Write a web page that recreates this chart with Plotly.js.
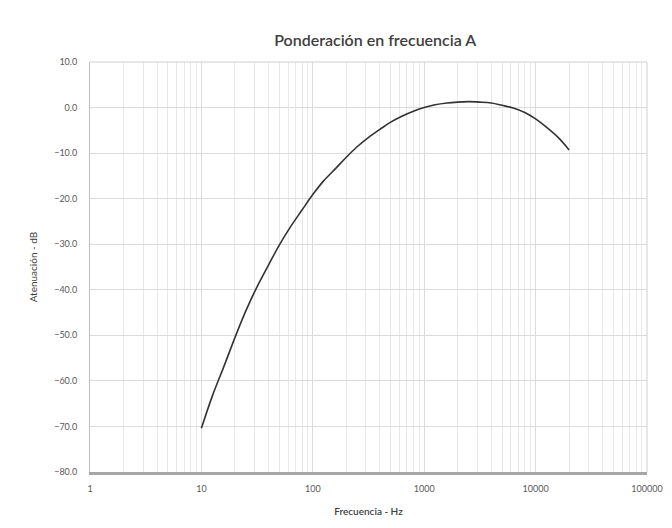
<!DOCTYPE html>
<html>
<head>
<meta charset="utf-8">
<script src="https://cdn.plot.ly/plotly-3.0.1.min.js"></script>
<style>
html,body{margin:0;padding:0;background:#fff;}
#chart{width:672px;height:528px;}
</style>
</head>
<body>
<div id="chart"></div>
<script>
// Frequencies (Hz), third-octave bands
const frecuencias = [10, 12.5, 16, 20, 25, 31.5, 40, 50, 63, 80, 100, 125, 160, 200, 250, 315, 400, 500, 630, 800, 1000, 1250, 1600, 2000, 2500, 3150, 4000, 5000, 6300, 8000, 10000, 12500, 16000, 20000];
// A-weighting attenuation (dB)
const atenuacion = [-70.4, -63.4, -56.7, -50.5, -44.7, -39.4, -34.6, -30.2, -26.2, -22.5, -19.1, -16.1, -13.4, -10.9, -8.6, -6.6, -4.8, -3.2, -1.9, -0.8, 0.0, 0.6, 1.0, 1.2, 1.3, 1.2, 1.0, 0.5, -0.1, -1.1, -2.5, -4.3, -6.6, -9.3];
// Axis tick labels
const xTickVals = [1, 10, 100, 1000, 10000, 100000];
const xTickText = ["1", "10", "100", "1000", "10000", "100000"];
const yTickVals = [10, 0, -10, -20, -30, -40, -50, -60, -70, -80];

const minorVals = [];
for (let d = 1; d < 100000; d *= 10) {
  for (let k = 2; k <= 9; k++) minorVals.push(d * k);
}

const trace = {
  x: frecuencias,
  y: atenuacion,
  type: 'scatter',
  mode: 'lines',
  line: {color: '#333333', width: 1.6, shape: 'spline', smoothing: 1},
  hoverinfo: 'x+y'
};

const fontFam = 'Lato, "Open Sans", sans-serif';

const layout = {
  width: 672,
  height: 528,
  paper_bgcolor: '#ffffff',
  plot_bgcolor: '#ffffff',
  margin: {l: 90, r: 25, t: 62, b: 56},
  showlegend: false,
  title: {
    text: 'Ponderación en frecuencia A',
    font: {family: fontFam, size: 16, color: '#404040', weight: 600},
    x: 0.512, xref: 'paper', xanchor: 'center',
    y: 0.924, yref: 'container', yanchor: 'middle'
  },
  xaxis: {
    type: 'log',
    range: [0, 5],
    tickmode: 'array',
    tickvals: xTickVals,
    ticktext: xTickText,
    tickfont: {family: fontFam, size: 9, color: '#595959'},
    ticks: '',
    ticklabelstandoff: 6,
    showgrid: true,
    gridcolor: '#dcdcdc',
    gridwidth: 1,
    minor: {tickmode: 'array', tickvals: minorVals, showgrid: true, gridcolor: '#e8e8e8', gridwidth: 1, ticks: ''},
    showline: true,
    linecolor: '#a6a6a6',
    linewidth: 3,
    zeroline: false,
    title: {text: 'Frecuencia - Hz', font: {family: fontFam, size: 10, color: '#404040', weight: 600}, standoff: 16}
  },
  yaxis: {
    range: [-80, 10],
    tickmode: 'array',
    tickvals: yTickVals,
    tickformat: '.1f',
    tickfont: {family: fontFam, size: 9, color: '#595959'},
    ticks: '',
    ticklabelstandoff: 10,
    showgrid: true,
    gridcolor: '#dcdcdc',
    gridwidth: 1,
    showline: true,
    linecolor: '#bfbfbf',
    linewidth: 1,
    zeroline: false,
    title: {text: 'Atenuación - dB', font: {family: fontFam, size: 10, color: '#404040'}, standoff: 14}
  },
  shapes: [
    {type: 'line', xref: 'paper', yref: 'paper', x0: 1, x1: 1, y0: 0, y1: 1, line: {color: '#d0d0d0', width: 1}},
    {type: 'line', xref: 'paper', yref: 'paper', x0: 0, x1: 1, y0: 1, y1: 1, line: {color: '#d0d0d0', width: 1}}
  ]
};

Plotly.newPlot('chart', [trace], layout, {displayModeBar: false, staticPlot: true});
</script>
</body>
</html>
